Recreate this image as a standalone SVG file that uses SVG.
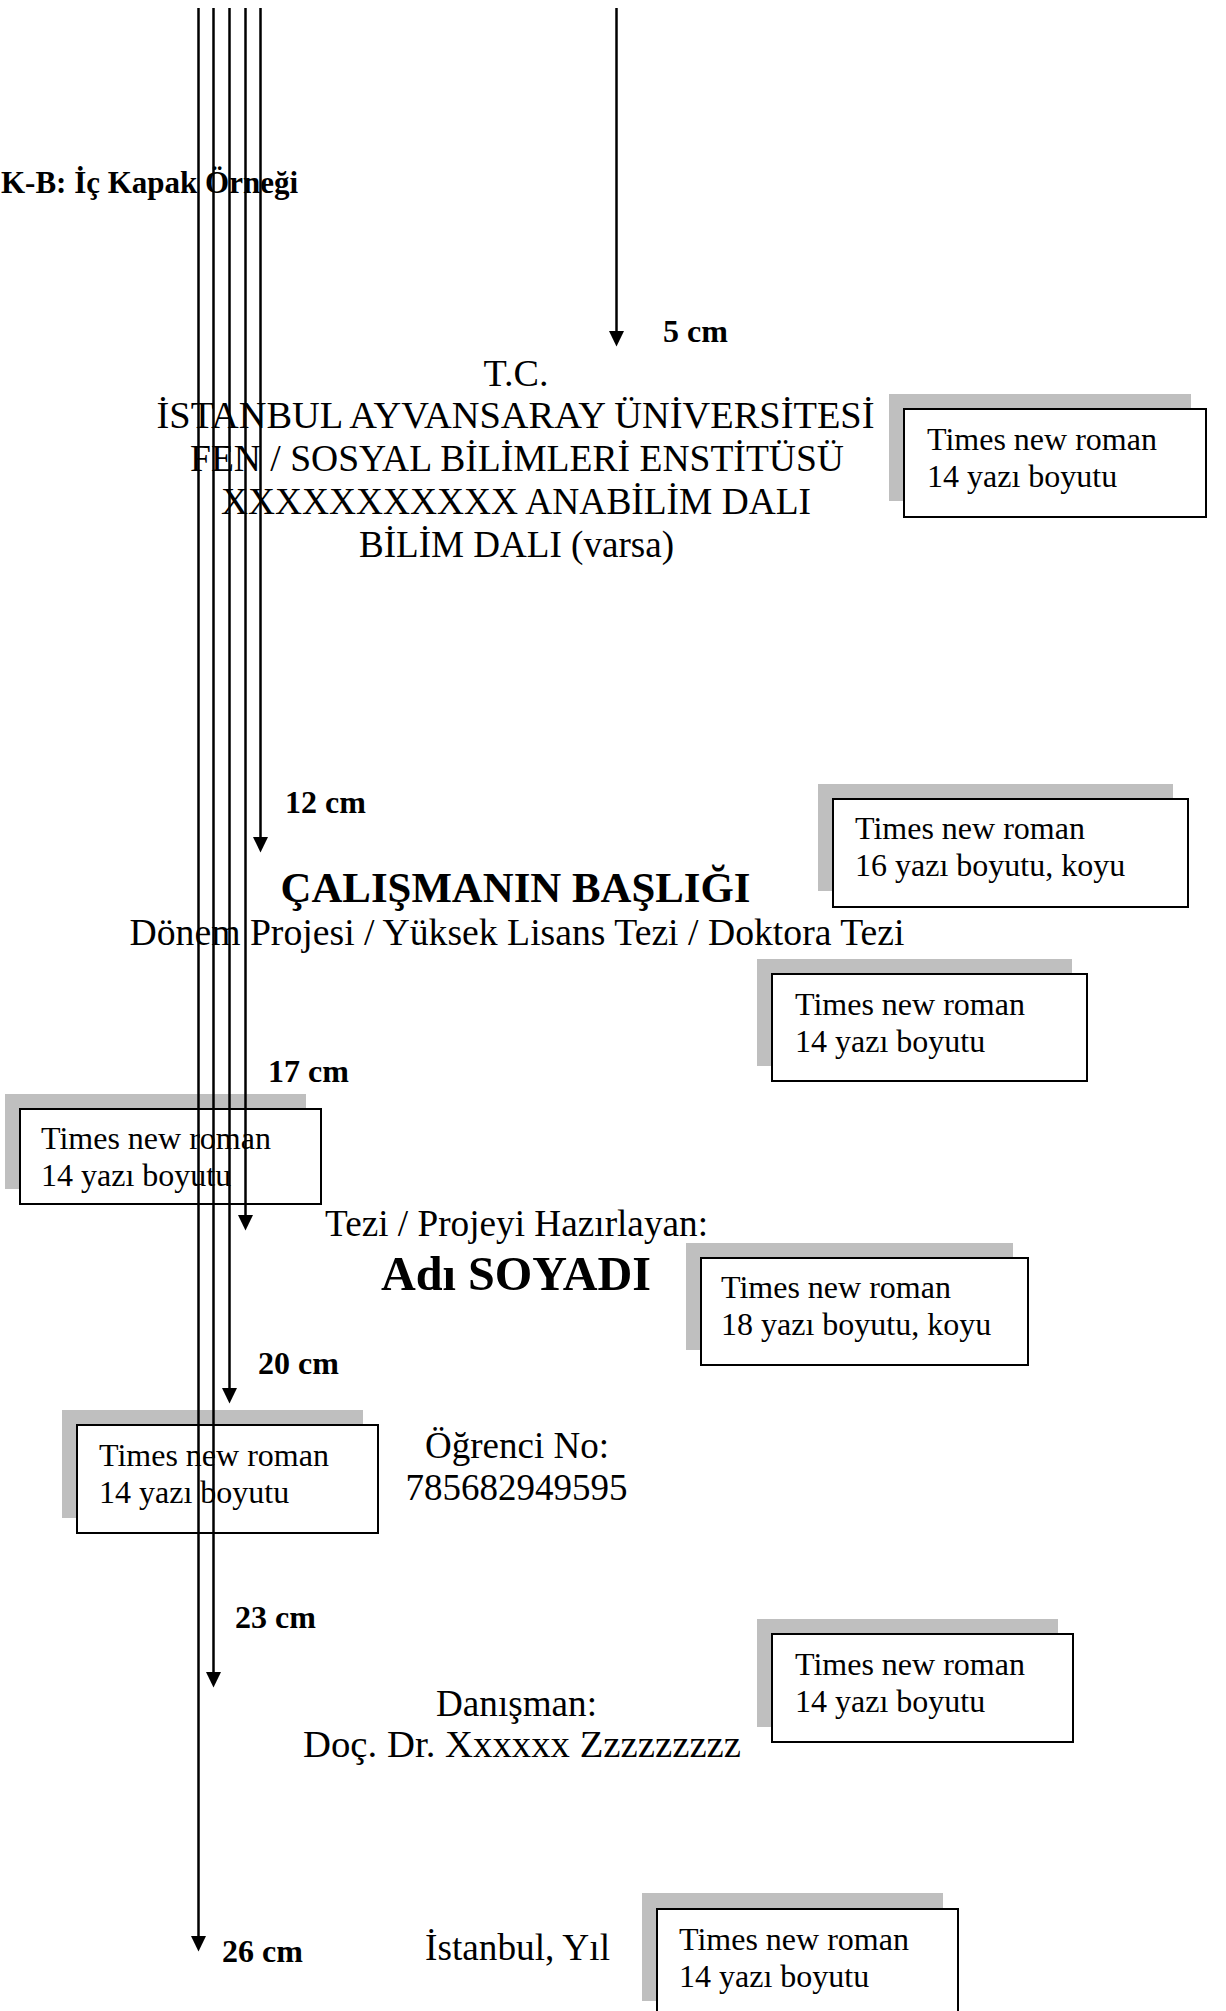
<svg xmlns="http://www.w3.org/2000/svg" width="1226" height="2011" viewBox="0 0 1226 2011">
<defs>
<style>
.t{font-family:"Liberation Serif","Times New Roman",serif;fill:#000}
.m{font-size:37.3px;text-anchor:middle}
.b{font-weight:bold}
.lab{font-size:32px;font-weight:bold}
.bx{font-size:32px}
.sh{fill:#bfbfbf}
.box{fill:#fff;stroke:#000;stroke-width:2}
.c{stroke:#000;stroke-width:2.5;fill:none}
</style>
<marker id="ah" markerUnits="userSpaceOnUse" markerWidth="16" markerHeight="16" viewBox="0 0 16 16" refX="7" refY="8" orient="auto">
<path d="M0,0.5 L15.5,8 L0,15.5 z" fill="#000"/>
</marker>
</defs>
<rect width="1226" height="2011" fill="#fff"/>
<g id="title"><text class="t b" x="1" y="193" font-size="32" textLength="297" lengthAdjust="spacingAndGlyphs">K-B: İç Kapak Örneği</text></g>
<g id="header" class="t m">
<text x="516" y="386" textLength="65" lengthAdjust="spacingAndGlyphs">T.C.</text>
<text x="515.5" y="428" textLength="718" lengthAdjust="spacingAndGlyphs">İSTANBUL AYVANSARAY ÜNİVERSİTESİ</text>
<text x="517" y="471" textLength="654" lengthAdjust="spacingAndGlyphs">FEN / SOSYAL BİLİMLERİ ENSTİTÜSÜ</text>
<text x="516" y="514" textLength="590" lengthAdjust="spacingAndGlyphs">XXXXXXXXXXX ANABİLİM DALI</text>
<text x="516.5" y="557" textLength="315" lengthAdjust="spacingAndGlyphs">BİLİM DALI (varsa)</text>
</g>
<g id="baslik"><text class="t b" x="515.5" y="902" font-size="42.7" text-anchor="middle" textLength="470" lengthAdjust="spacingAndGlyphs">ÇALIŞMANIN BAŞLIĞI</text></g>
<g id="tur"><text class="t m" x="517" y="945" textLength="775" lengthAdjust="spacingAndGlyphs">Dönem Projesi / Yüksek Lisans Tezi / Doktora Tezi</text></g>
<g id="hazirlayan"><text class="t m" x="516.5" y="1236" textLength="383" lengthAdjust="spacingAndGlyphs">Tezi / Projeyi Hazırlayan:</text></g>
<g id="adsoyad"><text class="t b" x="516" y="1290" font-size="48" text-anchor="middle" textLength="270" lengthAdjust="spacingAndGlyphs">Adı SOYADI</text></g>
<g id="ogrenci" class="t m">
<text x="517" y="1458" textLength="184" lengthAdjust="spacingAndGlyphs">Öğrenci No:</text>
<text x="516.5" y="1500" textLength="222" lengthAdjust="spacingAndGlyphs">785682949595</text>
</g>
<g id="danisman" class="t m">
<text x="516.5" y="1716" textLength="161" lengthAdjust="spacingAndGlyphs">Danışman:</text>
<text x="522" y="1757" textLength="438" lengthAdjust="spacingAndGlyphs">Doç. Dr. Xxxxxx Zzzzzzzzz</text>
</g>
<g id="yil"><text class="t m" x="517.5" y="1960" textLength="185" lengthAdjust="spacingAndGlyphs">İstanbul, Yıl</text></g>
<g id="cm-labels" class="t lab">
<text x="663" y="342">5 cm</text>
<text x="285" y="813">12 cm</text>
<text x="268" y="1082">17 cm</text>
<text x="258" y="1374">20 cm</text>
<text x="235" y="1628">23 cm</text>
<text x="222" y="1962">26 cm</text>
</g>
<g id="box1"><rect class="sh" x="889" y="394" width="302" height="107"/><rect class="box" x="904" y="409" width="302" height="108"/><text class="t bx" x="927" y="450">Times new roman</text><text class="t bx" x="927" y="487">14 yazı boyutu</text></g>
<g id="box2"><rect class="sh" x="818" y="784" width="355" height="107"/><rect class="box" x="833" y="799" width="355" height="108"/><text class="t bx" x="855" y="839">Times new roman</text><text class="t bx" x="855" y="876">16 yazı boyutu, koyu</text></g>
<g id="box3"><rect class="sh" x="757" y="959" width="315" height="107"/><rect class="box" x="772" y="974" width="315" height="107"/><text class="t bx" x="795" y="1015">Times new roman</text><text class="t bx" x="795" y="1052">14 yazı boyutu</text></g>
<g id="box4"><rect class="sh" x="5" y="1094" width="301" height="95"/><rect class="box" x="20" y="1109" width="301" height="95"/><text class="t bx" x="41" y="1149">Times new roman</text><text class="t bx" x="41" y="1186">14 yazı boyutu</text></g>
<g id="box5"><rect class="sh" x="686" y="1243" width="327" height="107"/><rect class="box" x="701" y="1258" width="327" height="107"/><text class="t bx" x="721" y="1298">Times new roman</text><text class="t bx" x="721" y="1335">18 yazı boyutu, koyu</text></g>
<g id="box6"><rect class="sh" x="62" y="1410" width="301" height="108"/><rect class="box" x="77" y="1425" width="301" height="108"/><text class="t bx" x="99" y="1466">Times new roman</text><text class="t bx" x="99" y="1503">14 yazı boyutu</text></g>
<g id="box7"><rect class="sh" x="757" y="1619" width="301" height="108"/><rect class="box" x="772" y="1634" width="301" height="108"/><text class="t bx" x="795" y="1675">Times new roman</text><text class="t bx" x="795" y="1712">14 yazı boyutu</text></g>
<g id="box8"><rect class="sh" x="642" y="1893" width="301" height="108"/><rect class="box" x="657" y="1909" width="301" height="108"/><text class="t bx" x="679" y="1950">Times new roman</text><text class="t bx" x="679" y="1987">14 yazı boyutu</text></g>
<g id="connectors" class="c">
<line x1="616.5" y1="8" x2="616.5" y2="338" marker-end="url(#ah)"/>
<line x1="260.5" y1="8" x2="260.5" y2="844" marker-end="url(#ah)"/>
<line x1="245.5" y1="8" x2="245.5" y2="1222" marker-end="url(#ah)"/>
<line x1="229.5" y1="8" x2="229.5" y2="1395" marker-end="url(#ah)"/>
<line x1="213.5" y1="8" x2="213.5" y2="1679" marker-end="url(#ah)"/>
<line x1="198.5" y1="8" x2="198.5" y2="1943" marker-end="url(#ah)"/>
</g>
</svg>
